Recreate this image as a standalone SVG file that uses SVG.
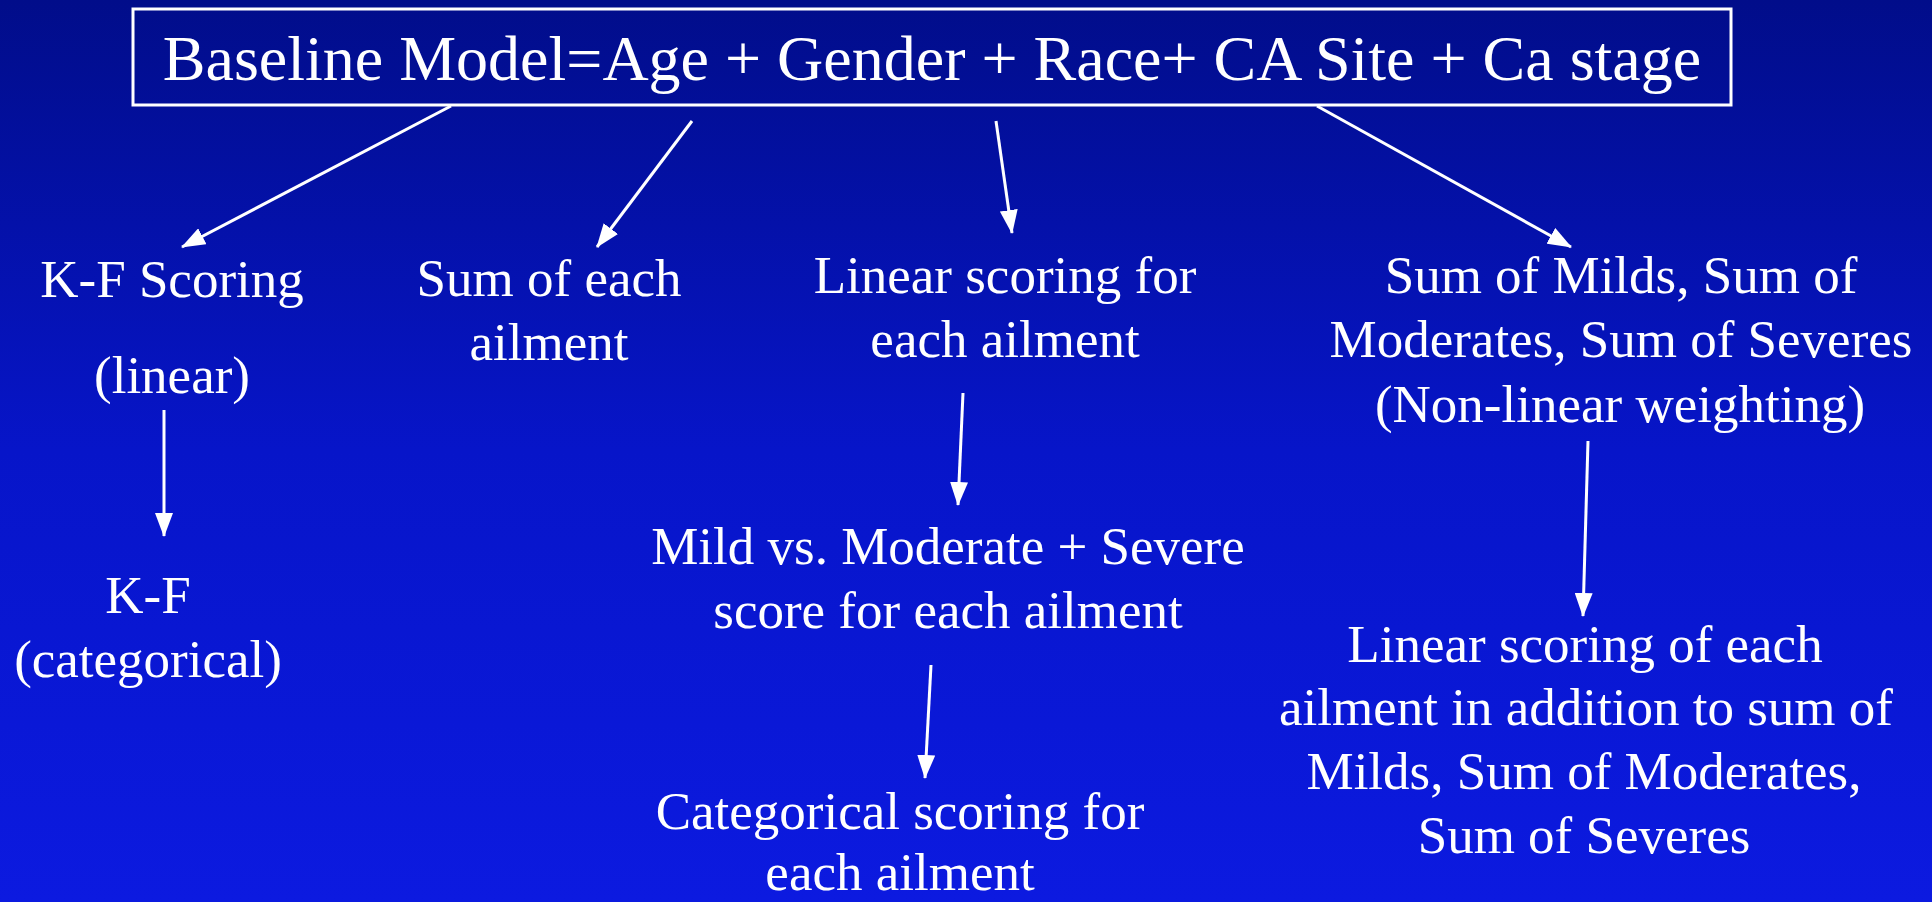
<svg xmlns="http://www.w3.org/2000/svg" width="1932" height="902" viewBox="0 0 1932 902">
<defs>
<linearGradient id="bg" x1="0" y1="0" x2="0" y2="1">
<stop offset="0" stop-color="#010d8a"/>
<stop offset="0.5" stop-color="#0715c9"/>
<stop offset="1" stop-color="#0c1ae0"/>
</linearGradient>
<marker id="ah" markerUnits="userSpaceOnUse" markerWidth="24" markerHeight="18" viewBox="0 0 24 18" refX="23" refY="9" orient="auto">
<path d="M0,0 L24,9 L0,18 Z" fill="#ffffff"/>
</marker>
<style>
text{font-family:"Liberation Serif","Times New Roman",serif;fill:#ffffff;text-anchor:middle;font-size:53px}
.title{font-size:64px}
.conn line{stroke:#ffffff;stroke-width:3;marker-end:url(#ah)}
</style>
</defs>
<rect width="1932" height="902" fill="url(#bg)"/>
<g id="baseline">
<rect x="133" y="9" width="1598" height="96" fill="none" stroke="#ffffff" stroke-width="3"/>
<text class="title" x="932" y="80">Baseline Model=Age + Gender + Race+ CA Site + Ca stage</text>
</g>
<g id="kf-scoring">
<text x="172" y="297">K-F Scoring</text>
<text x="172" y="393">(linear)</text>
</g>
<g id="kf-categorical">
<text x="148" y="613">K-F</text>
<text x="148" y="677">(categorical)</text>
</g>
<g id="sum-each">
<text x="549" y="296">Sum of each</text>
<text x="549" y="360">ailment</text>
</g>
<g id="linear-each">
<text x="1005" y="293">Linear scoring for</text>
<text x="1005" y="357">each ailment</text>
</g>
<g id="mild-vs">
<text x="948" y="564">Mild vs. Moderate + Severe</text>
<text x="948" y="628">score for each ailment</text>
</g>
<g id="categorical-each">
<text x="900" y="829">Categorical scoring for</text>
<text x="900" y="890">each ailment</text>
</g>
<g id="sum-milds">
<text x="1621" y="293">Sum of Milds, Sum of</text>
<text x="1621" y="357">Moderates, Sum of Severes</text>
<text x="1620" y="422">(Non-linear weighting)</text>
</g>
<g id="linear-plus-sums">
<text x="1585" y="662">Linear scoring of each</text>
<text x="1586" y="725">ailment in addition to sum of</text>
<text x="1584" y="789">Milds, Sum of Moderates,</text>
<text x="1584" y="853">Sum of Severes</text>
</g>
<g class="conn" id="connectors">
<line x1="451" y1="106" x2="182" y2="247"/>
<line x1="692" y1="121" x2="597" y2="247"/>
<line x1="996" y1="121" x2="1012" y2="233"/>
<line x1="1317" y1="106" x2="1571" y2="247"/>
<line x1="164" y1="410" x2="164" y2="536"/>
<line x1="963" y1="393" x2="958" y2="505"/>
<line x1="931" y1="665" x2="925" y2="778"/>
<line x1="1588" y1="441" x2="1583" y2="616"/>
</g>
</svg>
